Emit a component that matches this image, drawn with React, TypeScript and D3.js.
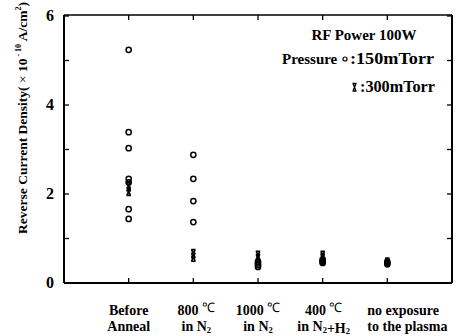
import React from "react";
import * as d3 from "d3";

const categories = ["Before|Anneal", "800 ℃|in N₂", "1000 ℃|in N₂", "400 ℃|in N₂+H₂", "no exposure|to the plasma"];
const circleValues: number[][] = [
  [5.24, 3.39, 3.03, 2.34, 2.26, 1.66, 1.44],
  [2.88, 2.34, 1.84, 1.37],
  [0.36, 0.4, 0.44, 0.48],
  [0.47, 0.5, 0.53, 0.45],
  [0.45, 0.42, 0.48],
];
const crossValues: number[][] = [
  [2.16, 2.06],
  [0.66, 0.58],
  [0.62, 0.55],
  [0.62, 0.56],
  [0.47],
];
const yTicks = [0, 1, 2, 3, 4, 5, 6];
const yLabels = [0, 2, 4, 6];

const W = 457, H = 336;
const M = { left: 64, right: 452, top: 15, bottom: 283 };
const FONT = "'Liberation Serif', 'Times New Roman', serif";

function Cross({ x, y }: { x: number; y: number }) {
  return (
    <path
      d={`M${x - 2.2},${y - 4} L${x + 2.2},${y - 4} M${x - 1.8},${y - 4} L${x + 1.8},${y + 4} M${x + 1.8},${y - 4} L${x - 1.8},${y + 4} M${x - 2.2},${y + 4} L${x + 2.2},${y + 4}`}
      stroke="#000"
      strokeWidth={1.6}
      fill="none"
    />
  );
}

export default function App() {
  const x = d3.scaleLinear().domain([0, 6]).range([M.left, M.right]);
  const y = d3.scaleLinear().domain([0, 6]).range([M.bottom, M.top + 1]);
  const tl = 5;
  const renderLine = (s: string, kp: string) => {
    const parts = s.split(/([₂℃])/);
    return parts.map((p, k) =>
      p === "₂" ? (
        <React.Fragment key={kp + k}>
          <tspan fontSize={8.5} dy={1.5}>2</tspan>
          <tspan dy={-1.5}></tspan>
        </React.Fragment>
      ) : p === "℃" ? (
        <React.Fragment key={kp + k}>
          <tspan fontWeight="normal" fontSize={13} dy={-3.5}>℃</tspan>
          <tspan dy={3.5}></tspan>
        </React.Fragment>
      ) : (
        <tspan key={kp + k}>{p}</tspan>
      )
    );
  };
  return (
    <svg width={W} height={H} style={{ position: "absolute", left: 0, top: 0 }} fontFamily={FONT}>
      <rect width={W} height={H} fill="#fff" />
      {/* frame */}
      <line x1={M.left} x2={M.right} y1={M.bottom} y2={M.bottom} stroke="#000" strokeWidth={2} />
      <line x1={M.left} x2={M.left} y1={M.top} y2={M.bottom} stroke="#000" strokeWidth={2} />
      <line x1={M.left} x2={M.right} y1={M.top} y2={M.top} stroke="#000" strokeWidth={1.5} />
      <line x1={M.right} x2={M.right} y1={M.top} y2={M.bottom} stroke="#000" strokeWidth={2} />
      {/* y ticks */}
      {yTicks.map((t) => (
        <g key={t}>
          <line x1={M.left} x2={M.left + tl} y1={y(t)} y2={y(t)} stroke="#000" strokeWidth={1.3} />
          <line x1={M.right - tl} x2={M.right} y1={y(t)} y2={y(t)} stroke="#000" strokeWidth={1.3} />
        </g>
      ))}
      {yLabels.map((t) => (
        <text key={t} x={54} y={y(t) + 5} textAnchor="end" fontSize={16} fontWeight="bold">
          {t}
        </text>
      ))}
      {/* x ticks */}
      {categories.map((c, i) => (
        <g key={c}>
          <line x1={x(i + 1)} x2={x(i + 1)} y1={M.bottom} y2={M.bottom - tl} stroke="#000" strokeWidth={1.3} />
          <line x1={x(i + 1)} x2={x(i + 1)} y1={M.top} y2={M.top + tl} stroke="#000" strokeWidth={1.3} />
        </g>
      ))}
      {categories.map((c, i) => {
        const [a, b] = c.split("|");
        const last = i === categories.length - 1;
        const tx = last ? x(i + 1) - 20 : x(i + 1) + (i === 1 ? 3 : i === 3 ? 1 : 0);
        return (
          <g key={c} fontSize={14} fontWeight="bold" textAnchor={last ? "start" : "middle"}>
            <text x={tx} y={315}>{renderLine(a, "a")}</text>
            <text x={tx} y={331}>{renderLine(b, "b")}</text>
          </g>
        );
      })}
      {/* y axis title */}
      <text
        transform={`translate(27,118) rotate(-90)`}
        textAnchor="middle"
        fontSize={13.5}
        fontWeight="bold"
      >
        Reverse Current Density(
        <tspan fontWeight="normal"> × </tspan>10
        <tspan fontSize={8} dy={-6}> - 10</tspan>
        <tspan dy={6}> A/cm</tspan>
        <tspan fontSize={8} dy={-6}>2</tspan>
        <tspan dy={6}>)</tspan>
      </text>
      {/* data */}
      {circleValues.map((vals, i) =>
        vals.map((v, j) => (
          <circle key={`c${i}-${j}`} cx={x(i + 1)} cy={y(v)} r={2.6} fill="none" stroke="#000" strokeWidth={1.5} />
        ))
      )}
      {crossValues.map((vals, i) => vals.map((v, j) => <Cross key={`x${i}-${j}`} x={x(i + 1)} y={y(v)} />))}
      {/* legend */}
      <text x={364} y={40} textAnchor="middle" fontSize={15} fontWeight="bold">RF Power 100W</text>
      <text x={282} y={64} fontSize={15} fontWeight="bold">Pressure</text>
      <circle cx={345} cy={59} r={2} fill="none" stroke="#000" strokeWidth={1.2} />
      <text x={350} y={64} fontSize={16} fontWeight="bold" textLength={84} lengthAdjust="spacingAndGlyphs">:150mTorr</text>
      <path d="M352.5,83.5 L356.5,83.5 M353,83.5 L356,91 M356,83.5 L353,91 M352.5,91 L356.5,91" stroke="#000" strokeWidth={1.3} fill="none" />
      <text x={360} y={92} fontSize={16} fontWeight="bold" textLength={75} lengthAdjust="spacingAndGlyphs">:300mTorr</text>
    </svg>
  );
}
